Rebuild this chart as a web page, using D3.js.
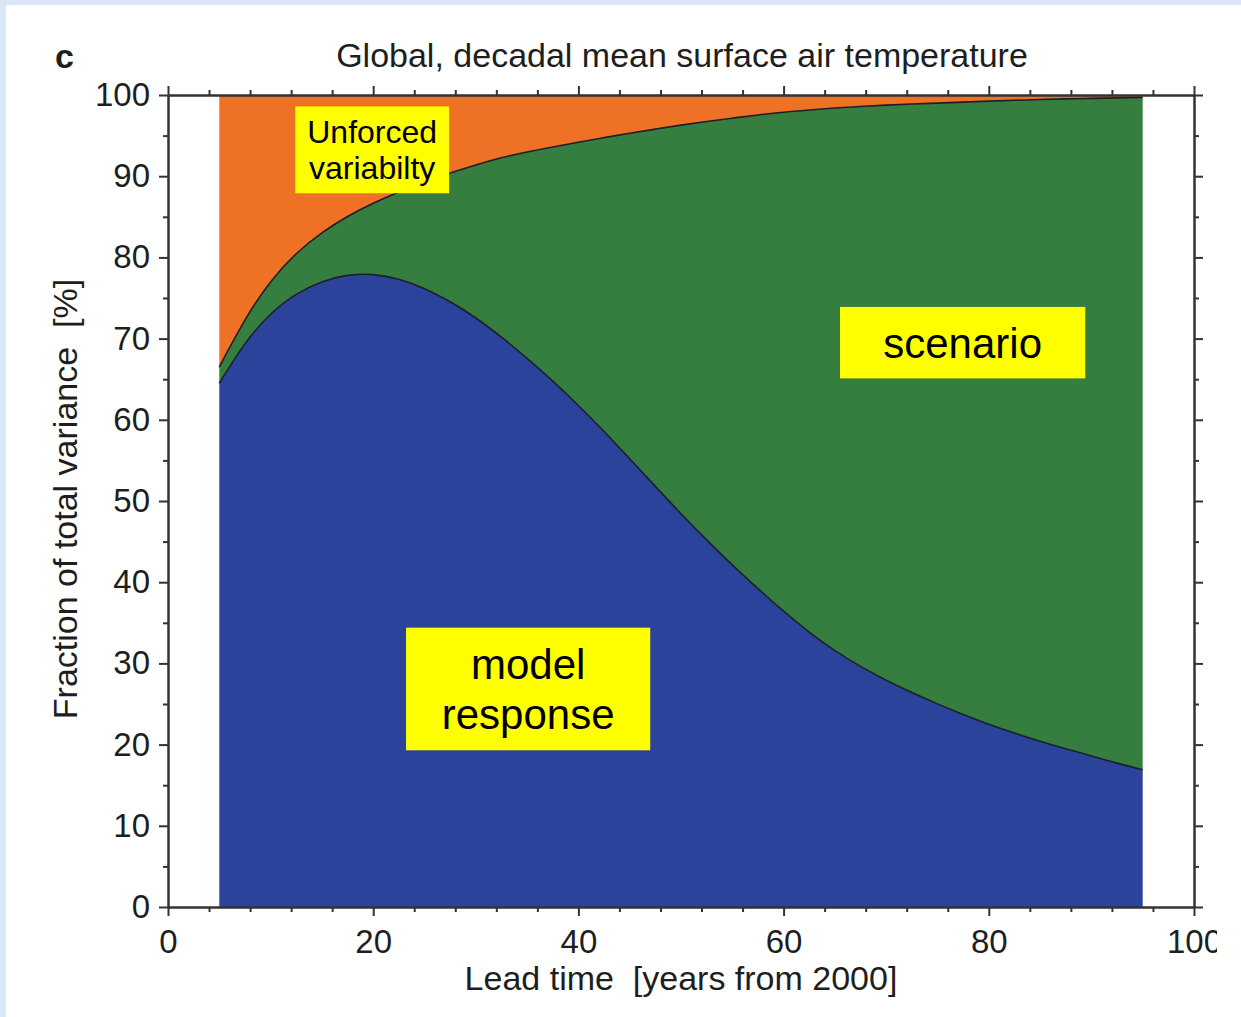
<!DOCTYPE html>
<html>
<head>
<meta charset="utf-8">
<script src="https://cdn.jsdelivr.net/npm/d3@7/dist/d3.min.js"></script>
<style>
  body { margin: 0; background: #d9e6f4; }
  svg { display: block; font-family: "Liberation Sans", Arial, Helvetica, sans-serif; }
</style>
</head>
<body>
<svg id="chart" width="1241" height="1017"></svg>
<script>
"use strict";

// ==========================
// data
// ==========================
var years = [5, 7.5, 10, 12.5, 15, 17.5, 20, 22.5, 25, 27.5, 30, 32.5, 35, 37.5, 40, 42.5, 45, 47.5, 50,
  52.5, 55, 57.5, 60, 62.5, 65, 67.5, 70, 72.5, 75, 77.5, 80, 82.5, 85, 87.5, 90, 92.5, 95];

var modelResponse = [64.5, 69.6, 73.2, 75.6, 77.1, 77.9, 78.0, 77.4, 76.2, 74.6, 72.6, 70.2, 67.6, 64.8, 61.8,
  58.6, 55.2, 51.8, 48.4, 45.2, 42.1, 39.2, 36.4, 33.8, 31.5, 29.6, 27.9, 26.4, 25.0, 23.7, 22.5, 21.4,
  20.4, 19.5, 18.6, 17.7, 16.9];

var scenario = [2.0, 2.9, 4.0, 5.0, 6.0, 7.2, 8.7, 10.7, 13.1, 15.8, 18.8, 22.1, 25.4, 28.8, 32.4, 36.15,
  40.1, 44.0, 47.9, 51.55, 55.05, 58.35, 61.5, 64.35, 66.9, 69.0, 70.85, 72.5, 74.0, 75.42, 76.75, 77.95,
  79.05, 80.02, 80.98, 81.94, 82.8];

var unforced = [33.5, 27.5, 22.8, 19.4, 16.9, 14.9, 13.3, 11.9, 10.7, 9.6, 8.6, 7.7, 7.0, 6.4, 5.8, 5.25,
  4.7, 4.2, 3.7, 3.25, 2.85, 2.45, 2.1, 1.85, 1.6, 1.4, 1.25, 1.1, 1.0, 0.88, 0.75, 0.65, 0.55, 0.48, 0.42,
  0.36, 0.3];

var xMajorTicks = [0, 20, 40, 60, 80, 100];
var yMajorTicks = [0, 10, 20, 30, 40, 50, 60, 70, 80, 90, 100];

var seriesKeys = ["model", "scenario", "unforced"];
var seriesColors = { model: "#2c439c", scenario: "#367d40", unforced: "#ee7126" };

// annotation boxes, in data units: [x0, x1, yTop, yBottom]
var labels = [
  { lines: ["Unforced", "variabilty"], box: [12.4, 27.4, 98.6, 87.9], size: 32, lh: 36 },
  { lines: ["scenario"], box: [65.5, 89.4, 73.9, 65.1], size: 42, lh: 46 },
  { lines: ["model", "response"], box: [23.2, 47.0, 34.4, 19.3], size: 42, lh: 50 }
];

// ==========================
// setup
// ==========================
var svg = d3.select("#chart");
var margin = { top: 95, right: 47, bottom: 110, left: 168 };
var W = +svg.attr("width"), H = +svg.attr("height");

svg.append("rect").attr("x", 6).attr("y", 5).attr("width", W - 6).attr("height", H - 5).attr("fill", "#fff");

// the last x label is cut by the picture edge in the original
svg.append("clipPath").attr("id", "edge").append("rect")
  .attr("x", 0).attr("y", 0).attr("width", 1217).attr("height", H);
var root = svg.append("g").attr("clip-path", "url(#edge)");

var x = d3.scaleLinear().domain([0, 100]).range([margin.left, W - margin.right]);
var y = d3.scaleLinear().domain([0, 100]).range([H - margin.bottom, margin.top]);

var table = years.map(function (yr, i) {
  return { year: yr, model: modelResponse[i], scenario: scenario[i], unforced: unforced[i] };
});

var stacked = d3.stack().keys(seriesKeys)(table);

var area = d3.area()
  .x(function (d) { return x(d.data.year); })
  .y0(function (d) { return y(d[0]); })
  .y1(function (d) { return y(d[1]); })
  .curve(d3.curveBasis);

var line = d3.line()
  .x(function (d) { return x(d.data.year); })
  .y(function (d) { return y(d[1]); })
  .curve(d3.curveBasis);

root.append("g").selectAll("path").data(stacked).enter().append("path")
  .attr("d", area)
  .attr("fill", function (d) { return seriesColors[d.key]; });

root.append("g").selectAll("path").data(stacked.slice(0, 2)).enter().append("path")
  .attr("d", line)
  .attr("fill", "none")
  .attr("stroke", "#1c1f2a")
  .attr("stroke-width", 1.6);

// ==========================
// axes
// ==========================
var axisColor = "#333";
var xMinor = d3.range(0, 101, 4).filter(function (v) { return xMajorTicks.indexOf(v) < 0; });
var yMinor = d3.range(5, 100, 10);

function drawAxis(gen, transform, majors, minors, pad) {
  var g = root.append("g").attr("transform", transform);
  g.call(gen.tickValues(minors).tickSize(5).tickSizeOuter(0).tickFormat(""));
  var g2 = root.append("g").attr("transform", transform);
  g2.call(gen.tickValues(majors).tickSize(9).tickSizeOuter(0).tickPadding(pad || 0)
    .tickFormat(pad ? d3.format("d") : ""));
  [g, g2].forEach(function (s) {
    s.selectAll("path.domain").attr("stroke", axisColor).attr("stroke-width", 2);
    s.selectAll(".tick line").attr("stroke", axisColor).attr("stroke-width", 2);
    s.selectAll("text").attr("font-size", 33).attr("fill", "#1e1e1e").attr("font-family", null);
  });
  return g2;
}

drawAxis(d3.axisBottom(x), "translate(0," + y(0) + ")", xMajorTicks, xMinor, 14);
drawAxis(d3.axisTop(x), "translate(0," + y(100) + ")", xMajorTicks, xMinor, 0);
drawAxis(d3.axisLeft(y), "translate(" + x(0) + ",0)", yMajorTicks, yMinor, 9);
drawAxis(d3.axisRight(y), "translate(" + x(100) + ",0)", yMajorTicks, yMinor, 0);

// ==========================
// titles
// ==========================
root.append("text").attr("x", 682).attr("y", 67).attr("text-anchor", "middle")
  .attr("font-size", 34).attr("fill", "#1e1e1e").text("Global, decadal mean surface air temperature");

root.append("text").attr("x", 55).attr("y", 68)
  .attr("font-size", 34).attr("font-weight", "bold").attr("fill", "#1e1e1e").text("c");

root.append("text").attr("x", (x(0) + x(100)) / 2).attr("y", 990).attr("text-anchor", "middle")
  .attr("font-size", 34).attr("fill", "#1e1e1e").style("white-space", "pre")
  .text("Lead time  [years from 2000]");

root.append("text").attr("transform", "translate(77," + (y(50) - 2) + ") rotate(-90)")
  .attr("text-anchor", "middle")
  .attr("font-size", 34).attr("fill", "#1e1e1e").style("white-space", "pre")
  .text("Fraction of total variance  [%]");

// ==========================
// yellow labels
// ==========================
labels.forEach(function (l) {
  var x0 = x(l.box[0]), x1 = x(l.box[1]), y0 = y(l.box[2]), y1 = y(l.box[3]);
  root.append("rect").attr("x", x0).attr("y", y0).attr("width", x1 - x0).attr("height", y1 - y0)
    .attr("fill", "#ffff00");
  var cy = (y0 + y1) / 2, n = l.lines.length;
  var t = root.append("text").attr("text-anchor", "middle").attr("font-size", l.size).attr("fill", "#000");
  l.lines.forEach(function (s, i) {
    t.append("tspan").attr("x", (x0 + x1) / 2)
      .attr("y", cy + (i - (n - 1) / 2) * l.lh)
      .attr("dy", "0.36em")
      .text(s);
  });
});
</script>
</body>
</html>
